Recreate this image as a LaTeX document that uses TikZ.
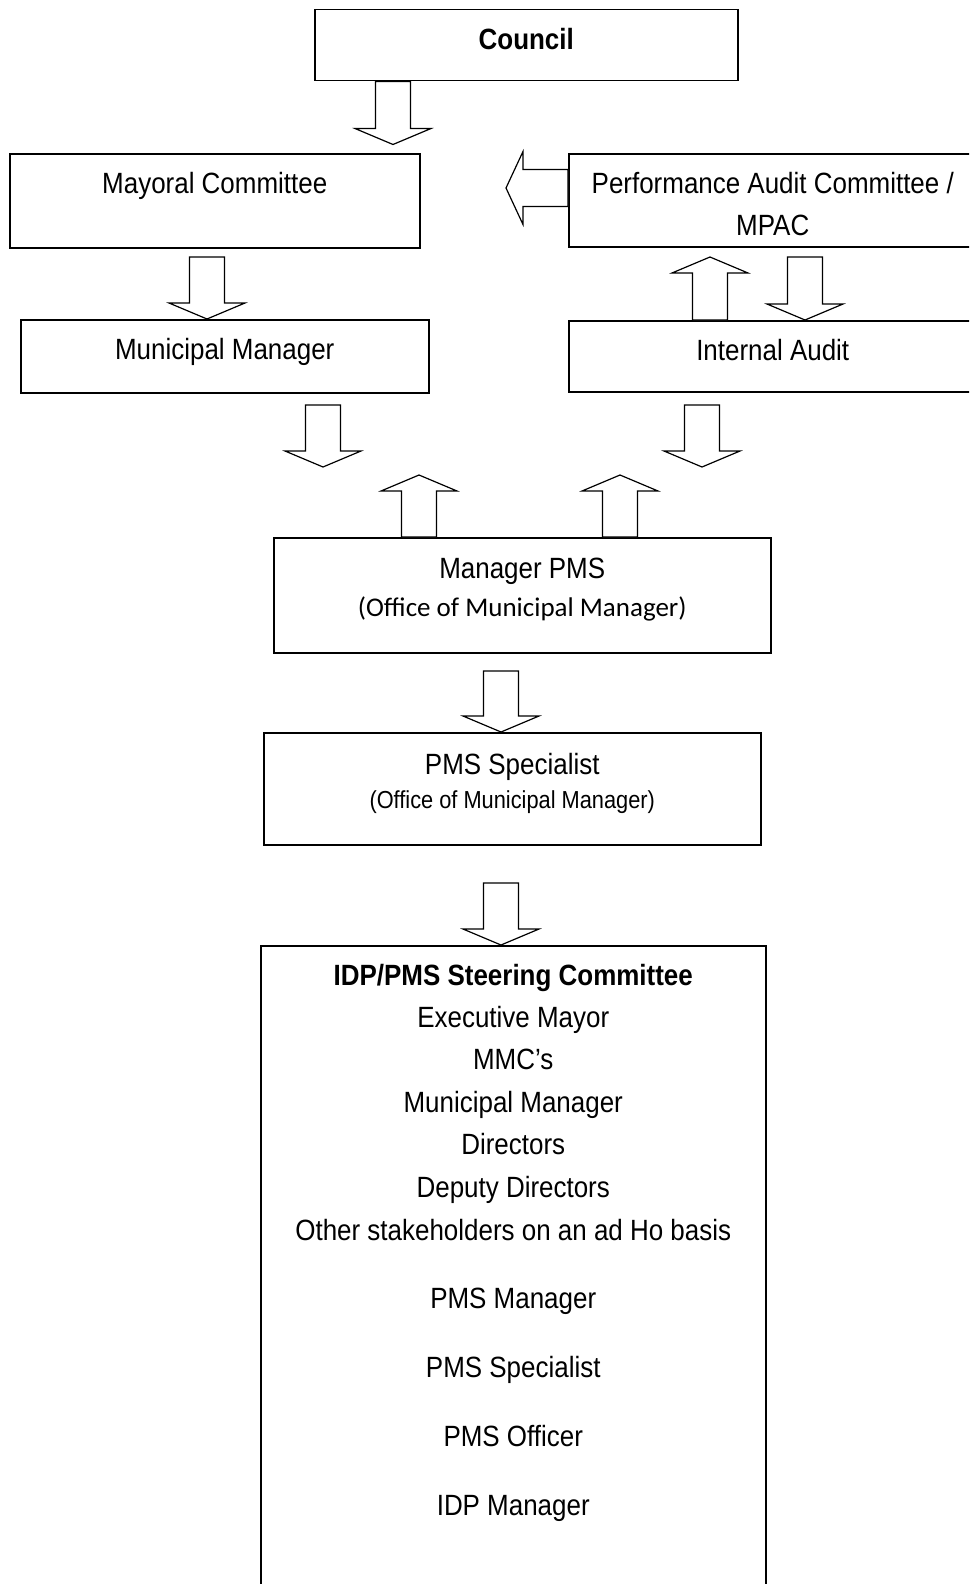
\documentclass[tikz,border=0pt]{standalone}
\usepackage{fontspec}
\setmainfont{Liberation Sans}[FakeStretch=0.886]
\newfontfamily\calibrifont{Carlito}
\usepackage{tikz}
\usetikzlibrary{calc}

\tikzset{
  box/.style={draw=black, line width=1.5pt, rectangle, anchor=north west, inner sep=0pt},
  fat/.style={draw=black, fill=white, line width=1.2pt, line join=miter},
  lbl/.style={anchor=base, inner sep=0pt, font=\fontsize{29.3}{34}\selectfont},
  lblsmall/.style={anchor=base, inner sep=0pt, font=\fontsize{24.6}{29}\selectfont}
}

% hollow block arrows: #1 = tail centre, #2 = length
\newcommand{\fatdown}[2]{\draw[fat] #1 ++(-17.5,0) -- ++(0,#2-16) -- ++(-20.5,0) -- ++(38,16) -- ++(38,-16) -- ++(-20.5,0) -- ++(0,16-#2) -- cycle;}
\newcommand{\fatup}[2]{\draw[fat] #1 ++(-17.5,0) -- ++(0,16-#2) -- ++(-20.5,0) -- ++(38,-16) -- ++(38,16) -- ++(-20.5,0) -- ++(0,#2-16) -- cycle;}
\newcommand{\fatleft}[2]{\draw[fat] #1 ++(0,-18.5) -- ++(17-#2,0) -- ++(0,-18) -- ++(-17,36.5) -- ++(17,36.5) -- ++(0,-18) -- ++(#2-17,0) -- cycle;}

\begin{document}
\begin{tikzpicture}[x=1pt,y=-1pt]
\clip (0,0) rectangle (969,1584);
\fill[white] (0,0) rectangle (969,1584);

%% boxes
\node[box, minimum width=423pt, minimum height=71pt] (council) at (314,9) {};
\node[box, minimum width=410pt, minimum height=94pt] (mayor) at (9,153) {};
\node[box, minimum width=408pt, minimum height=93pt] (pac) at (568,153) {};
\node[box, minimum width=408pt, minimum height=73pt] (mm) at (20,319) {};
\node[box, minimum width=408pt, minimum height=71pt] (ia) at (568,320) {};
\node[box, minimum width=497pt, minimum height=115pt] (pms) at (273,537) {};
\node[box, minimum width=497pt, minimum height=112pt] (spec) at (263,732) {};
\node[box, minimum width=505pt, minimum height=700pt] (steer) at (260,945) {};

%% texts
\node[lbl] (tcouncil) at (council.north |- 0,50) {\bfseries Council};
\node[lbl] (tmayor) at (mayor.north |- 0,193) {Mayoral Committee};
\node[lbl] (tpac) at (pac.north |- 0,193) {Performance Audit Committee /};
\node[lbl] (tmpac) at (pac.north |- 0,235) {MPAC};
\node[lbl] (tmm) at (mm.north |- 0,359) {Municipal Manager};
\node[lbl] (tia) at (ia.north |- 0,360) {Internal Audit};
\node[lbl] (tpms) at (pms.north |- 0,578) {Manager PMS};
\node[anchor=base, inner sep=0pt, font=\calibrifont\fontsize{27}{32}\selectfont] (tpmsoff) at (pms.north |- 0,616) {(Office of Municipal Manager)};
\node[lbl] (tspec) at (spec.north |- 0,774) {PMS Specialist};
\node[lblsmall] (tspecoff) at (spec.north |- 0,808) {(Office of Municipal Manager)};

\node[lbl] (tsteer) at (steer.north |- 0,985) {\bfseries IDP/PMS Steering Committee};
\foreach \y/\member [count=\i] in {1027/Executive Mayor, 1069/MMC’s, 1112/Municipal Manager, 1154/Directors, 1197/Deputy Directors, 1240/Other stakeholders on an ad Ho basis, 1308/PMS Manager, 1377/PMS Specialist, 1446/PMS Officer, 1515/IDP Manager}
    \node[lbl] (member\i) at (steer.north |- 0,\y) {\member};

%% block arrows
\fatdown{(council.south -| 393,0)}{63}
\fatdown{(207,257)}{62}
\fatleft{(pac.west |- 0,188)}{62}
\fatup{(ia.north -| 710,0)}{63}
\fatdown{(805,257)}{63}
\fatdown{(323,405)}{62}
\fatdown{(702,405)}{62}
\fatup{(pms.north -| 419,0)}{62}
\fatup{(pms.north -| 620,0)}{62}
\fatdown{(501,671)}{61}
\fatdown{(501,883)}{62}
\end{tikzpicture}
\end{document}
